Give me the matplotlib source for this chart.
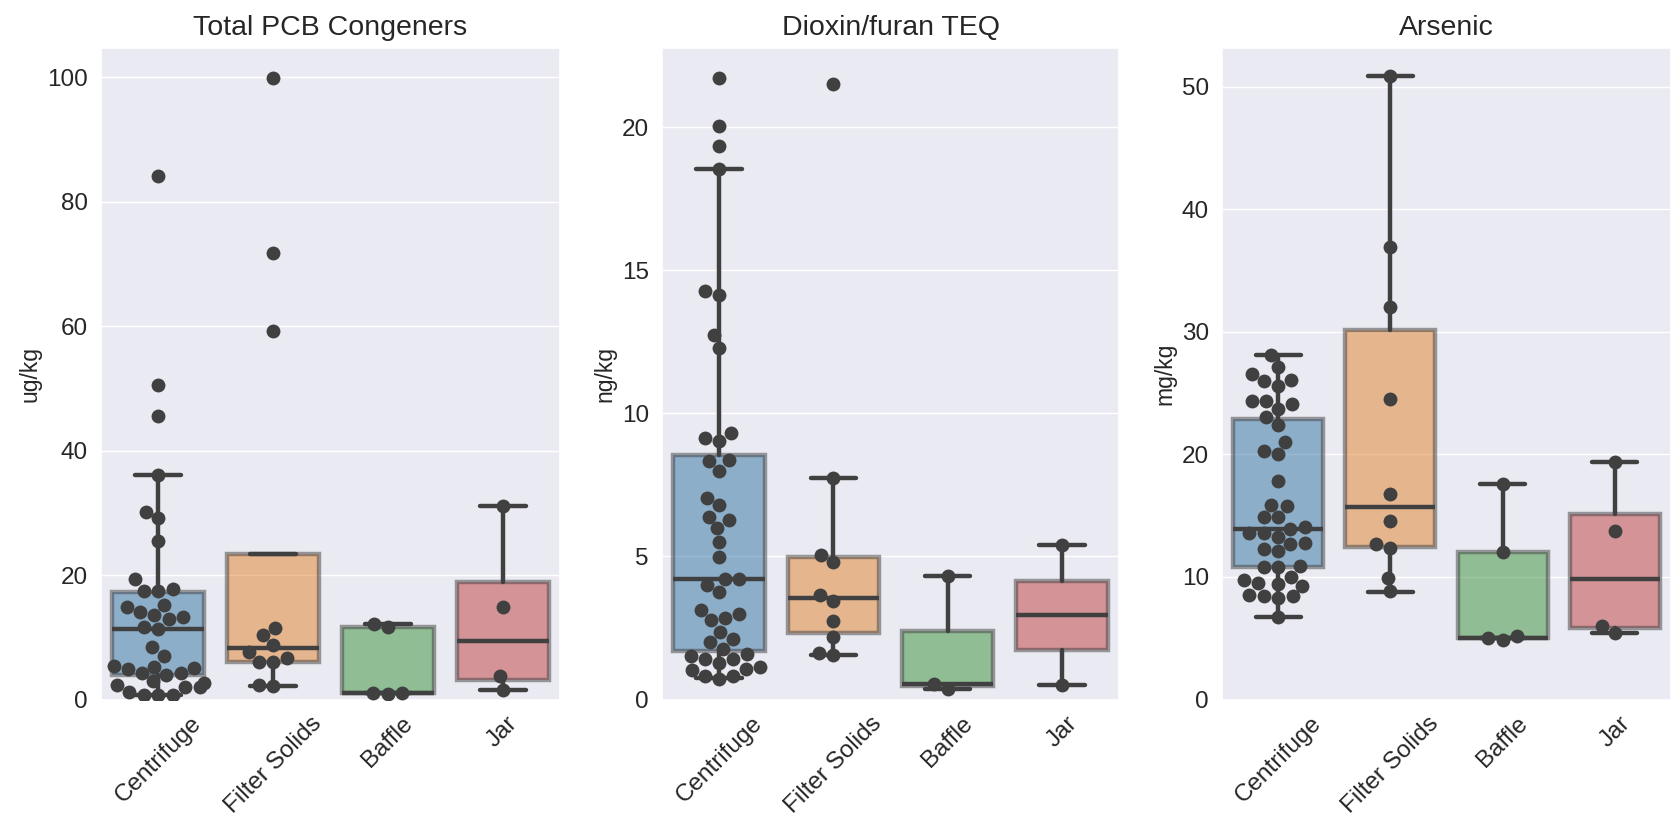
import numpy as np
import matplotlib
matplotlib.use("Agg")
import matplotlib.pyplot as plt
import seaborn as sns

cats = ["Centrifuge", "Filter Solids", "Baffle", "Jar"]
box_colors = ["#3274a1", "#e1812c", "#3a923a", "#c03d3e"]

# --- Total PCB Congeners (ug/kg) ---
pcb_centrifuge = [84.1, 50.6, 45.6, 36.1, 30.2, 29.1, 25.5, 19.3, 17.5, 17.5, 17.8, 15.2,
                  14.8, 14.1, 13.5, 13.3, 12.9, 11.7, 11.3, 8.4, 7.0, 5.3, 5.4, 4.9, 5.1,
                  4.3, 4.0, 4.2, 2.9, 2.7, 2.4, 2.0, 2.0, 1.2, 0.8, 0.8, 0.8]
pcb_filter = [99.8, 71.7, 59.2, 11.5, 10.3, 8.7, 7.7, 6.7, 6.0, 6.0, 2.3, 2.2]
pcb_baffle = [12.2, 11.6, 1.1, 0.9, 1.1]
pcb_jar = [31.1, 14.9, 3.7, 1.5]
# box stats per group: q1, median, q3, lower whisker, upper whisker
pcb_q1 = [4.0, 6.0, 1.1, 3.2]
pcb_med = [11.3, 8.2, 1.1, 9.35]
pcb_q3 = [17.3, 23.3, 11.6, 18.8]
pcb_lo = [0.8, 2.2, 1.0, 1.5]
pcb_hi = [36.1, 23.3, 12.2, 31.1]

# --- Dioxin/furan TEQ (ng/kg) ---
dx_centrifuge = [21.71, 20.03, 19.34, 18.53, 14.27, 14.14, 12.75, 12.29, 9.31, 9.12, 9.04,
                 8.36, 8.34, 7.99, 7.05, 6.80, 6.39, 6.27, 5.98, 5.50, 4.97, 4.22, 4.21,
                 4.01, 3.76, 3.12, 2.97, 2.83, 2.76, 2.37, 2.10, 2.0, 1.75, 1.60, 1.52,
                 1.42, 1.40, 1.28, 1.15, 1.08, 1.03, 0.82, 0.82, 0.73]
dx_filter = [21.5, 7.74, 5.04, 4.8, 3.65, 3.44, 2.75, 2.19, 1.63, 1.57]
dx_baffle = [4.30, 0.55, 0.36]
dx_jar = [5.38, 0.49]
dx_q1 = [1.70, 2.32, 0.47, 1.73]
dx_med = [4.21, 3.54, 0.54, 2.95]
dx_q3 = [8.53, 4.98, 2.41, 4.14]
dx_lo = [0.75, 1.56, 0.36, 0.49]
dx_hi = [18.53, 7.74, 4.30, 5.38]

# --- Arsenic (mg/kg) ---
as_centrifuge = [28.1, 27.1, 26.6, 26.0, 26.1, 25.6, 24.35, 24.1, 24.35, 23.7, 23.05, 22.4,
                 21.0, 20.3, 20.0, 17.85, 15.9, 15.8, 14.9, 14.9, 14.05, 13.9, 13.6, 13.3,
                 13.6, 12.8, 12.7, 12.3, 12.1, 10.9, 10.8, 10.8, 10.0, 9.76, 9.5, 9.3,
                 9.46, 8.46, 8.27, 8.46, 8.53, 6.7]
as_filter = [50.9, 36.96, 32.04, 24.55, 16.77, 14.53, 12.67, 12.37, 9.95, 8.83]
as_baffle = [17.55, 12.03, 5.05, 4.84, 5.15]
as_jar = [19.35, 13.76, 5.98, 5.42]
as_q1 = [10.8, 12.45, 5.05, 5.85]
as_med = [13.95, 15.7, 5.05, 9.86]
as_q3 = [22.9, 30.15, 12.03, 15.1]
as_lo = [6.7, 8.8, 5.05, 5.42]
as_hi = [28.1, 50.9, 17.55, 19.35]

panels = [
    ("Total PCB Congeners", "ug/kg", [pcb_centrifuge, pcb_filter, pcb_baffle, pcb_jar],
     pcb_q1, pcb_med, pcb_q3, pcb_lo, pcb_hi, [0, 20, 40, 60, 80, 100]),
    ("Dioxin/furan TEQ", "ng/kg", [dx_centrifuge, dx_filter, dx_baffle, dx_jar],
     dx_q1, dx_med, dx_q3, dx_lo, dx_hi, [0, 5, 10, 15, 20]),
    ("Arsenic", "mg/kg", [as_centrifuge, as_filter, as_baffle, as_jar],
     as_q1, as_med, as_q3, as_lo, as_hi, [0, 10, 20, 30, 40, 50]),
]

sns.set_theme(style="darkgrid")
plt.rcParams["font.family"] = ["Liberation Sans", "DejaVu Sans"]

fig = plt.figure(figsize=(16.71, 8.17), dpi=100)
lefts = [101, 662, 1222]
widths = [459, 457, 449]
line_col = "#404040"

for (title, unit, groups, q1, med, q3, lo, hi, yt), left, w in zip(panels, lefts, widths):
    ax = fig.add_axes([left / 1671, 1 - 699.5 / 817, w / 1671, 652 / 817])
    stats = []
    for i in range(4):
        stats.append(dict(q1=q1[i], med=med[i], q3=q3[i], whislo=lo[i], whishi=hi[i], fliers=[]))
    bp = ax.bxp(stats, positions=range(4), widths=0.8, patch_artist=True, showfliers=False,
                manage_ticks=False,
                boxprops=dict(linewidth=3.2, edgecolor=line_col),
                medianprops=dict(color=line_col, linewidth=3.2),
                whiskerprops=dict(color=line_col, linewidth=3.2),
                capprops=dict(color=line_col, linewidth=3.2))
    for patch, c in zip(bp["boxes"], box_colors):
        patch.set_facecolor(c)
        patch.set_alpha(0.5)

    xs = []
    ys = []
    for c, vals in zip(cats, groups):
        xs += [c] * len(vals)
        ys += vals
    sns.swarmplot(x=xs, y=ys, order=cats, color=line_col, size=10, ax=ax, zorder=3)

    allv = np.concatenate([np.asarray(g) for g in groups])
    top = allv.max() + 0.05 * (allv.max() - allv.min())
    ax.set_ylim(0, top)
    ax.set_xlim(-0.5, 3.5)
    ax.set_yticks(yt)
    ax.xaxis.grid(False)
    ax.set_title(title, fontsize=20.5, color=".15", pad=9)
    ax.set_ylabel(unit, fontsize=16.5, color=".15")
    ax.set_xlabel("")
    ax.tick_params(axis="both", labelsize=17.5, colors=".15")
    ax.tick_params(axis="x", rotation=45)

fig.savefig("out.png", dpi=100)
